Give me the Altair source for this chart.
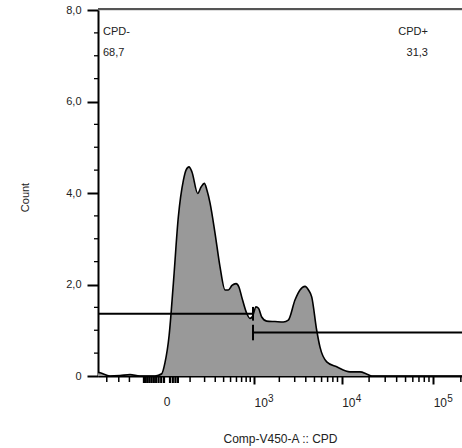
import altair as alt
import pandas as pd

# histogram (channel value, count in thousands)
hist_x = [-592, -556, -405, -287, -195, -124, -45, -18, -7, 7, 22, 42, 65, 78, 94, 111, 148, 172, 198,
          220, 248, 298, 354, 419, 465, 523, 592, 648, 702, 813, 894, 959, 1059, 1136, 1241, 1424, 1783,
          2223, 2537, 3021, 3443, 3920, 4289, 4660, 5296, 5764, 6842, 8822, 12352, 15913, 18980, 21520, 205800]
hist_y = [0.08, 0.07, 0.0, 0.01, 0.03, 0.0, 0.0, 0.05, 0.28, 0.89, 2.02, 3.48, 4.28, 4.50, 4.57, 4.46, 3.99,
          4.13, 4.21, 4.06, 3.78, 3.12, 2.39, 1.88, 1.88, 1.98, 2.02, 1.94, 1.73, 1.37, 1.26, 1.30, 1.51, 1.48,
          1.29, 1.20, 1.19, 1.18, 1.22, 1.66, 1.88, 1.96, 1.88, 1.73, 1.00, 0.63, 0.31, 0.20, 0.09, 0.09, 0.04,
          0.0, 0.0]

# gates
gate_names = ["CPD-", "CPD+"]
gate_pcts = ["68,7", "31,3"]
gate_x1 = [-592, 974]
gate_x2 = [974, 205800]
gate_y = [1.36, 0.95]
gate_tick_lo = [1.21, 0.78]
gate_tick_hi = [1.51, 1.12]

# axis ticks
x_decades = [1000, 10000, 100000]
x_exponents = ["3", "4", "5"]
x_zero = [0]
x_near_zero = [-100, -90, -80, -70, -60, -50, -40, -30, -20, -10, 10, 20, 30, 40]
x_minor = [-450, -300, -200,
           100, 200, 300, 400, 500, 600, 700, 800, 900,
           2000, 3000, 4000, 5000, 6000, 7000, 8000, 9000,
           20000, 30000, 40000, 50000, 60000, 70000, 80000, 90000, 200000]
y_major = [0, 2, 4, 6, 8]
y_minor = [0.5, 1, 1.5, 2.5, 3, 3.5, 4.5, 5, 5.5, 6.5, 7, 7.5]

W, H = 364, 366
FONT = "Liberation Sans"
TXT = "#222222"

hist = pd.DataFrame({"x": hist_x, "y": hist_y})
gates = pd.DataFrame({"name": gate_names, "pct": gate_pcts, "x1": gate_x1, "x2": gate_x2,
                      "y": gate_y, "lo": gate_tick_lo, "hi": gate_tick_hi})
decades = pd.DataFrame({"v": x_decades, "e": x_exponents})

xs = alt.Scale(type="symlog", constant=128, domain=[-592, 205800], nice=False, zero=False)
ys = alt.Scale(domain=[0, 8], nice=False, zero=False)

y_label_expr = "datum.value == 0 ? '0' : replace(format(datum.value, '.1f'), '.', ',')"

x_axis = alt.Axis(values=x_decades, labelExpr="'10'", title="Comp-V450-A :: CPD",
                  tickSize=8, tickWidth=2, tickColor="black", domainColor="black", domainWidth=2,
                  labelFont=FONT, labelFontSize=12, labelColor=TXT, labelPadding=13,
                  labelAlign="left",
                  titleFont=FONT, titleFontSize=12, titleFontWeight="normal", titleColor=TXT,
                  titleBaseline="middle", titleY=62, grid=False, labelFlush=False, labelOverlap=False)
y_axis = alt.Axis(values=y_major, labelExpr=y_label_expr, title="Count",
                  tickSize=11, tickWidth=2, tickColor="black", domainColor="black", domainWidth=2,
                  labelFont=FONT, labelFontSize=11, labelColor=TXT, labelPadding=6,
                  titleFont=FONT, titleFontSize=11, titleFontWeight="normal", titleColor=TXT,
                  titleX=-68, titleY=187, grid=False, labelFlush=False)

area = alt.Chart(hist).mark_area(color="#999999", interpolate="monotone", clip=True).encode(
    x=alt.X("x:Q", scale=xs, axis=x_axis),
    y=alt.Y("y:Q", scale=ys, axis=y_axis),
)
line = alt.Chart(hist).mark_line(color="black", strokeWidth=1.6, interpolate="monotone", clip=True).encode(
    x=alt.X("x:Q", scale=xs),
    y=alt.Y("y:Q", scale=ys),
)
gate_h = alt.Chart(gates).mark_rule(color="black", strokeWidth=2, clip=True).encode(
    x=alt.X("x1:Q", scale=xs), x2="x2:Q",
    y=alt.Y("y:Q", scale=ys),
)
gate_v = alt.Chart(gates).mark_rule(color="black", strokeWidth=2).encode(
    x=alt.X("x1:Q", scale=xs),
    y=alt.Y("lo:Q", scale=ys), y2="hi:Q",
).transform_filter(alt.datum.x1 > 0)
gate_v2 = alt.Chart(gates).mark_rule(color="black", strokeWidth=2).encode(
    x=alt.X("x2:Q", scale=xs),
    y=alt.Y("lo:Q", scale=ys), y2="hi:Q",
).transform_filter(alt.datum.x2 < 100000)

left_txt = gates[gates["name"] == "CPD-"]
right_txt = gates[gates["name"] == "CPD+"]
t1 = alt.Chart(left_txt).mark_text(align="left", baseline="middle", font=FONT, fontSize=11, color=TXT).encode(
    x=alt.value(5), y=alt.value(22), text="name:N")
t2 = alt.Chart(left_txt).mark_text(align="left", baseline="middle", font=FONT, fontSize=11, color=TXT).encode(
    x=alt.value(5), y=alt.value(43), text="pct:N")
t3 = alt.Chart(right_txt).mark_text(align="right", baseline="middle", font=FONT, fontSize=11, color=TXT).encode(
    x=alt.value(330), y=alt.value(22), text="name:N")
t4 = alt.Chart(right_txt).mark_text(align="right", baseline="middle", font=FONT, fontSize=11, color=TXT).encode(
    x=alt.value(330), y=alt.value(43), text="pct:N")

# exponent superscripts and zero label under the x axis
exps = alt.Chart(decades).mark_text(align="left", baseline="alphabetic", font=FONT, fontSize=10,
                                     color=TXT, dx=14).encode(
    x=alt.X("v:Q", scale=xs), y=alt.value(H + 26), text="e:N")
zero_lbl = alt.Chart(pd.DataFrame({"v": x_zero})).mark_text(
    align="center", baseline="top", font=FONT, fontSize=12, color=TXT).encode(
    x=alt.X("v:Q", scale=xs), y=alt.value(H + 21), text=alt.value("0"))

xminor = alt.Chart(pd.DataFrame({"v": x_minor})).mark_rule(color="black", strokeWidth=1.5).encode(
    x=alt.X("v:Q", scale=xs), y=alt.value(H), y2=alt.value(H + 6))
xnear = alt.Chart(pd.DataFrame({"v": x_near_zero})).mark_rule(color="black", strokeWidth=2.2).encode(
    x=alt.X("v:Q", scale=xs), y=alt.value(H), y2=alt.value(H + 7))
yminor = alt.Chart(pd.DataFrame({"v": y_minor})).mark_rule(color="black", strokeWidth=1.3).encode(
    y=alt.Y("v:Q", scale=ys), x=alt.value(-4), x2=alt.value(0))
top = alt.Chart(pd.DataFrame({"v": [0]})).mark_rule(color="#555555", strokeWidth=2).encode(
    x=alt.value(0), x2=alt.value(W), y=alt.value(-1))

chart = alt.layer(area, line, gate_h, gate_v, gate_v2, t1, t2, t3, t4, exps, zero_lbl,
                  xminor, xnear, yminor, top).properties(
    width=W, height=H,
    autosize=alt.AutoSizeParams(type="none"),
    padding={"left": 98, "top": 10, "right": 0, "bottom": 72},
).configure_view(stroke=None).configure(background="white")

chart.save("out.html", embed_options={"renderer": "svg", "actions": False})
